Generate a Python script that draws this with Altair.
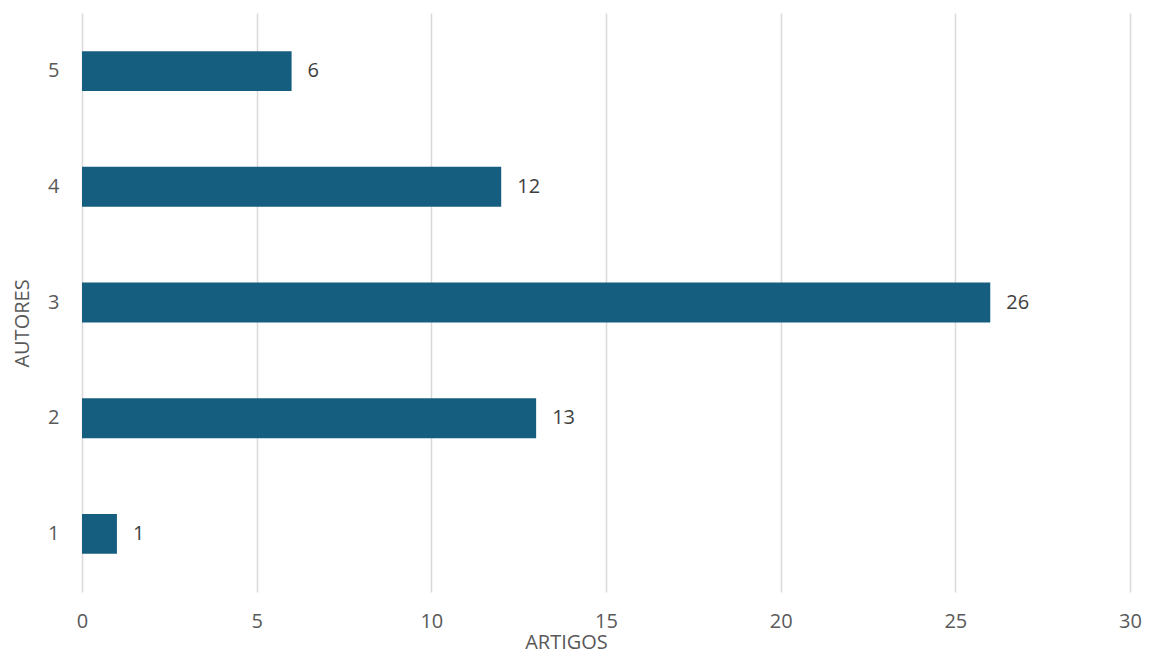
import altair as alt
import pandas as pd

autores = ["1", "2", "3", "4", "5"]
artigos = [1, 13, 26, 12, 6]

df = pd.DataFrame({"autores": autores, "artigos": artigos})

FONT = "Open Sans"
GRAY = "#595959"

y_enc = alt.Y(
    "autores:N",
    sort="descending",
    scale=alt.Scale(paddingInner=0.655, paddingOuter=0.33),
    axis=alt.Axis(
        title="AUTORES",
        titleFont=FONT, titleFontSize=20, titleFontWeight="normal", titleColor=GRAY,
        titleAngle=-90, titleAlign="center", titleBaseline="middle",
        titleX=-60, titleY=310,
        labelFont=FONT, labelFontSize=20, labelColor=GRAY, labelPadding=23,
        labelAngle=0,
        ticks=False, domain=False, grid=False,
    ),
)

x_enc = alt.X(
    "artigos:Q",
    scale=alt.Scale(domain=[0, 30], nice=False),
    axis=alt.Axis(
        title="ARTIGOS",
        values=[0, 5, 10, 15, 20, 25, 30],
        titleFont=FONT, titleFontSize=20, titleFontWeight="normal", titleColor=GRAY,
        titleAlign="center", titleBaseline="alphabetic",
        titleX=484, titleY=56,
        labelFont=FONT, labelFontSize=20, labelColor=GRAY, labelPadding=19,
        labelFlush=False,
        ticks=False, domain=False,
        grid=True, gridColor="#d9d9d9", gridWidth=1.5,
    ),
)

bars = alt.Chart(df).mark_bar(color="#165E80").encode(x=x_enc, y=y_enc)

labels = alt.Chart(df).mark_text(
    align="left", baseline="middle", dx=16, font=FONT, fontSize=20, color="#404040"
).encode(x="artigos:Q", y=alt.Y("autores:N", sort="descending"), text="artigos:Q")

chart = (
    alt.layer(bars, labels)
    .properties(
        width=1048, height=579,
        autosize=alt.AutoSizeParams(type="none"),
        padding={"left": 74, "top": 5, "right": 12, "bottom": 58},
        background="white",
    )
    .configure_view(stroke=None)
)

chart.save("out.html", embed_options={"renderer": "svg", "actions": False})
